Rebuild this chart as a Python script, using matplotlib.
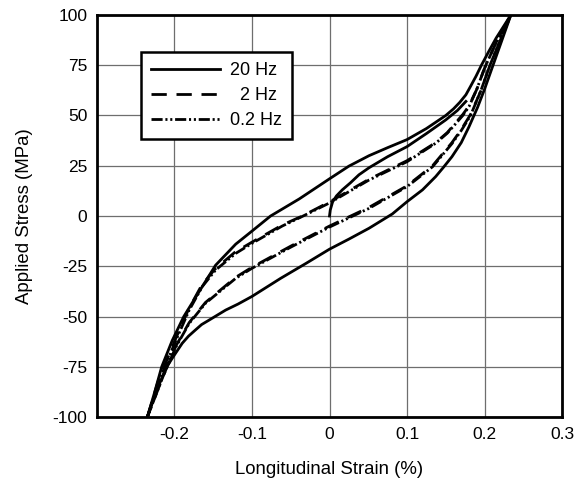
import matplotlib
matplotlib.use("Agg")
import matplotlib.pyplot as plt
import numpy as np

plt.rcParams['font.family'] = ['Liberation Sans', 'DejaVu Sans']
plt.rcParams['axes.unicode_minus'] = False
plt.rcParams['lines.scale_dashes'] = False

# 20 Hz loop, loading branch (bottom-left to top-right)
up20_x = [-0.235, -0.2255, -0.2165, -0.203, -0.188, -0.168, -0.147, -0.121, -0.1, -0.076,
          -0.039, 0.0, 0.025, 0.051, 0.075, 0.1, 0.125, 0.15, 0.16, 0.168, 0.176, 0.182,
          0.189, 0.196, 0.205, 0.215, 0.234]
up20_y = [-100, -87.5, -75, -62, -50, -37.5, -24.5, -14, -7.5, 0,
          8.5, 18.5, 24.8, 30, 34, 38, 43.5, 50, 53.3, 56.5, 60.3, 64.5,
          69.5, 75, 81.5, 88.5, 100]
# 20 Hz loop, unloading branch (top-right to bottom-left)
dn20_x = [0.234, 0.223, 0.211, 0.2, 0.191, 0.18, 0.17, 0.158, 0.147, 0.137, 0.12, 0.1, 0.081,
          0.051, 0.025, 0.0, -0.03, -0.063, -0.1, -0.118, -0.134, -0.155, -0.165, -0.173,
          -0.182, -0.19, -0.203, -0.2115, -0.223, -0.235]
dn20_y = [100, 88, 75, 63, 54, 44.4, 36.5, 29.5, 24.2, 19.6, 13, 7.1, 1,
          -6.1, -11.5, -16.5, -23.5, -31, -40, -43.8, -46.8, -51.7, -54, -56.7,
          -59.8, -63.3, -70.8, -76, -87, -100]

# initial loading curve from the origin
init_x = [0.0, 0.001, 0.004, 0.009, 0.0165, 0.027, 0.038, 0.051, 0.075, 0.1, 0.125, 0.15, 0.165, 0.176]
init_y = [0, 3, 7, 10, 13, 16.5, 20.5, 24, 29.5, 34.5, 41, 47.8, 52.5, 57]

# 0.2 Hz loop
up02_x = [-0.235, -0.22, -0.198, -0.181, -0.164, -0.147, -0.121, -0.1, -0.061, -0.034,
          0.0, 0.051, 0.1, 0.137, 0.152, 0.163, 0.172, 0.18, 0.19, 0.2, 0.217, 0.234]
up02_y = [-100, -82, -61.7, -46.8, -35, -26.9, -18.6, -13.6, -5, 0,
          6.5, 17.9, 27, 36.2, 41.2, 46, 50, 54.4, 63, 73.5, 88, 100]
dn02_x = [0.234, 0.221, 0.207, 0.195, 0.182, 0.17, 0.158, 0.133, 0.1, 0.051, 0.0,
          -0.05, -0.1, -0.121, -0.16, -0.181, -0.198, -0.215, -0.235]
dn02_y = [100, 88, 75, 62, 50, 42.5, 36, 24.5, 14.6, 3.8, -5.5,
          -15.5, -26, -31, -43.4, -53.4, -65, -80, -100]

# 2 Hz loop (almost on top of the 0.2 Hz one)
up2_x = [-0.235, -0.221, -0.199, -0.182, -0.165, -0.148, -0.122, -0.1, -0.061, -0.035,
         0.0, 0.051, 0.1, 0.137, 0.152, 0.163, 0.172, 0.18, 0.19, 0.2, 0.217, 0.234]
up2_y = [-100, -82, -61.5, -46.5, -34.5, -26.5, -18, -13, -4.5, 0,
         7, 18.3, 27.5, 36.5, 41.5, 46.5, 50.5, 54.8, 63, 73.5, 88, 100]
dn2_x = [0.234, 0.221, 0.207, 0.195, 0.182, 0.17, 0.158, 0.133, 0.1, 0.051, 0.0,
         -0.05, -0.1, -0.121, -0.16, -0.181, -0.198, -0.215, -0.235]
dn2_y = [100, 88, 75, 62, 50.5, 43, 36.5, 25, 15, 4.3, -5,
         -15, -25.5, -30.5, -43, -53, -64.5, -80, -100]

x_ticks = [-0.2, -0.1, 0, 0.1, 0.2, 0.3]
x_labels = ['-0.2', '-0.1', '0', '0.1', '0.2', '0.3']
y_ticks = [-100, -75, -50, -25, 0, 25, 50, 75, 100]

fig = plt.figure(figsize=(5.76, 4.83), dpi=100)
ax = fig.add_axes([0.1684, 0.1366, 0.8073, 0.8324])

lw = 2.0
ax.plot(up20_x + dn20_x, up20_y + dn20_y, color='black', lw=lw, label='20 Hz')
ax.plot(up2_x + dn2_x, up2_y + dn2_y, color='black', lw=lw, dashes=(11, 7), label='  2 Hz')
ax.plot(up02_x + dn02_x, up02_y + dn02_y, color='black', lw=lw,
        dashes=(8, 2, 1.5, 2, 1.5, 2), label='0.2 Hz')
ax.plot(init_x, init_y, color='black', lw=lw)

ax.set_xlim(-0.3, 0.3)
ax.set_ylim(-100, 100)
ax.set_xticks(x_ticks)
ax.set_xticklabels(x_labels)
ax.set_yticks(y_ticks)
ax.tick_params(length=0, pad=7, labelsize=12.5)
ax.grid(True, color='#6e6e6e', lw=0.9)
ax.set_axisbelow(True)
for s in ax.spines.values():
    s.set_linewidth(2)

ax.set_xlabel('Longitudinal Strain (%)', fontsize=13.4, labelpad=14)
ax.set_ylabel('Applied Stress (MPa)', fontsize=13.4, labelpad=14)

leg = ax.legend(loc='upper left', bbox_to_anchor=(0.0946, 0.908), borderaxespad=0,
                fontsize=13, frameon=True, fancybox=False, framealpha=1,
                edgecolor='black', handlelength=3.8, handletextpad=0.6,
                borderpad=0.55, labelspacing=0.45)
leg.get_frame().set_linewidth(1.8)

fig.savefig('out.png', dpi=100)
